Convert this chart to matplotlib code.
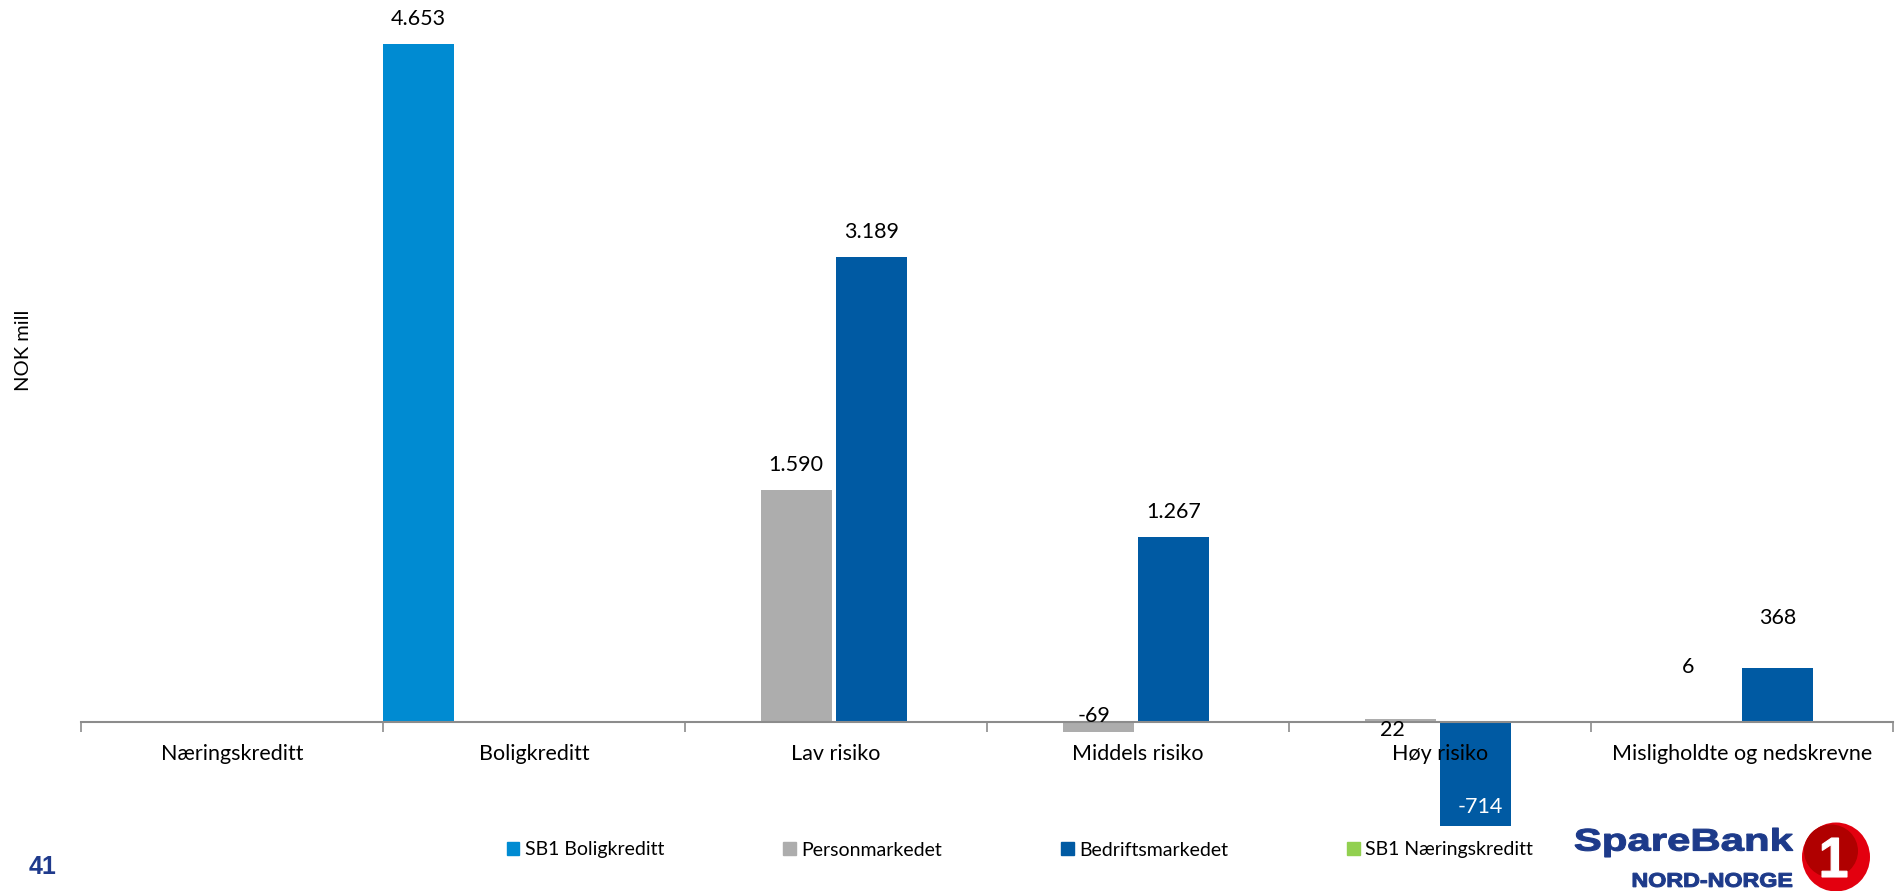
import numpy as np
import matplotlib.pyplot as plt
from matplotlib.patches import Patch, PathPatch, Ellipse
from matplotlib.textpath import TextPath
from matplotlib.font_manager import FontProperties
from matplotlib.transforms import Affine2D, IdentityTransform

plt.rcParams['font.family'] = ['Lato', 'DejaVu Sans']

# data
categories = ['Næringskreditt', 'Boligkreditt', 'Lav risiko', 'Middels risiko',
              'Høy risiko', 'Misligholdte og nedskrevne']
series_names = ['SB1 Boligkreditt', 'Personmarkedet', 'Bedriftsmarkedet', 'SB1 Næringskreditt']
sb1_boligkreditt = [np.nan, 4653, np.nan, np.nan, np.nan, np.nan]
personmarkedet = [np.nan, np.nan, 1590, -69, 22, 6]
bedriftsmarkedet = [np.nan, np.nan, 3189, 1267, -714, 368]
sb1_naeringskreditt = [np.nan, np.nan, np.nan, np.nan, np.nan, np.nan]

series = [sb1_boligkreditt, personmarkedet, bedriftsmarkedet, sb1_naeringskreditt]
colors = ['#008BD2', '#ADADAD', '#005AA3', '#92D050']

# label placement (pixels) per (series, category): dx, dy, colour
label_pos = {
    (1, 3): (-4, 16, 'black'),
    (1, 4): (-8, -11, 'black'),
    (1, 5): (-14, 54, 'black'),
    (2, 4): (5, 19, 'white'),
    (2, 5): (0, 50, 'black'),
}


def fmt(v):
    return f'{v:,.0f}'.replace(',', '.')


def logo_text(fig, s, x0, y0, w, h, color, family='Liberation Sans'):
    tp = TextPath((0, 0), s, size=100, prop=FontProperties(family=family, weight='bold'))
    ext = tp.get_extents()
    tr = Affine2D().translate(-ext.x0, -ext.y0).scale(w / ext.width, h / ext.height).translate(x0, y0)
    fig.add_artist(PathPatch(tr.transform_path(tp), fc=color, ec=color, lw=0.8,
                             transform=IdentityTransform()))


fig = plt.figure(figsize=(18.96, 8.91), dpi=100)
ax = fig.add_axes([81 / 1896, 52.3 / 891, 1812 / 1896, 831.2 / 891])

n = len(categories)
slot = 0.25
bw = 0.236
x = np.arange(n)
for k, (vals, col) in enumerate(zip(series, colors)):
    left = x - 0.5 + k * slot
    ax.bar(left, vals, width=bw, align='edge', color=col, label=series_names[k])
    for i, v in enumerate(vals):
        if np.isnan(v):
            continue
        dx, dy, c = label_pos.get((k, i), (0, 25, 'black'))
        ax.annotate(fmt(v), (left[i] + bw / 2, v), xytext=(dx, dy), textcoords='offset pixels',
                    ha='center', va='center', fontsize=15.5, color=c)

ax.set_xlim(-0.5, n - 0.5)
ax.set_ylim(-800, 4900)
for s in ['top', 'right', 'left']:
    ax.spines[s].set_visible(False)
ax.spines['bottom'].set_position(('data', 0))
ax.spines['bottom'].set_color('#8C8C8C')
ax.spines['bottom'].set_linewidth(1.5)
ax.set_yticks([])

ax.set_xticks(np.arange(n + 1) - 0.5)
ax.set_xticklabels([])
ax.tick_params(axis='x', which='major', length=7, width=1.2, color='#8C8C8C', direction='out')
ax.set_xticks(x, minor=True)
ax.set_xticklabels(categories, minor=True, fontsize=15.5)
ax.tick_params(axis='x', which='minor', length=0, pad=16)

ax.set_ylabel('NOK mill', fontsize=14.5)
ax.yaxis.set_label_coords(-0.027, 0.587)

handles = [Patch(color=c) for c in colors]
fig.legend(handles, series_names, loc='center', bbox_to_anchor=(1020 / 1896, 1 - 850 / 891),
           ncol=4, frameon=False, fontsize=14, handlelength=0.65, handleheight=0.65,
           handletextpad=0.3, columnspacing=6.1, borderpad=0)

# page number
fig.text(29 / 1896, 1 - 867 / 891, '41', fontsize=18, fontweight='bold', color='#1F3A8C',
         ha='left', va='center', family=['Liberation Sans', 'DejaVu Sans'])

# logo
navy = '#1D3A8A'
logo_text(fig, 'SpareBank', 1575, 34, 218, 29, navy)
logo_text(fig, 'NORD-NORGE', 1633, 4, 159, 14, navy)
fig.add_artist(Ellipse((1836, 34), 68, 69, fc='#E3000F', lw=0, transform=IdentityTransform()))
fig.add_artist(Ellipse((1831, 40), 54, 53, fc='#B00000', lw=0, transform=IdentityTransform()))
logo_text(fig, '1', 1822, 14, 25, 39, 'white')

fig.savefig('out.png', dpi=100)
